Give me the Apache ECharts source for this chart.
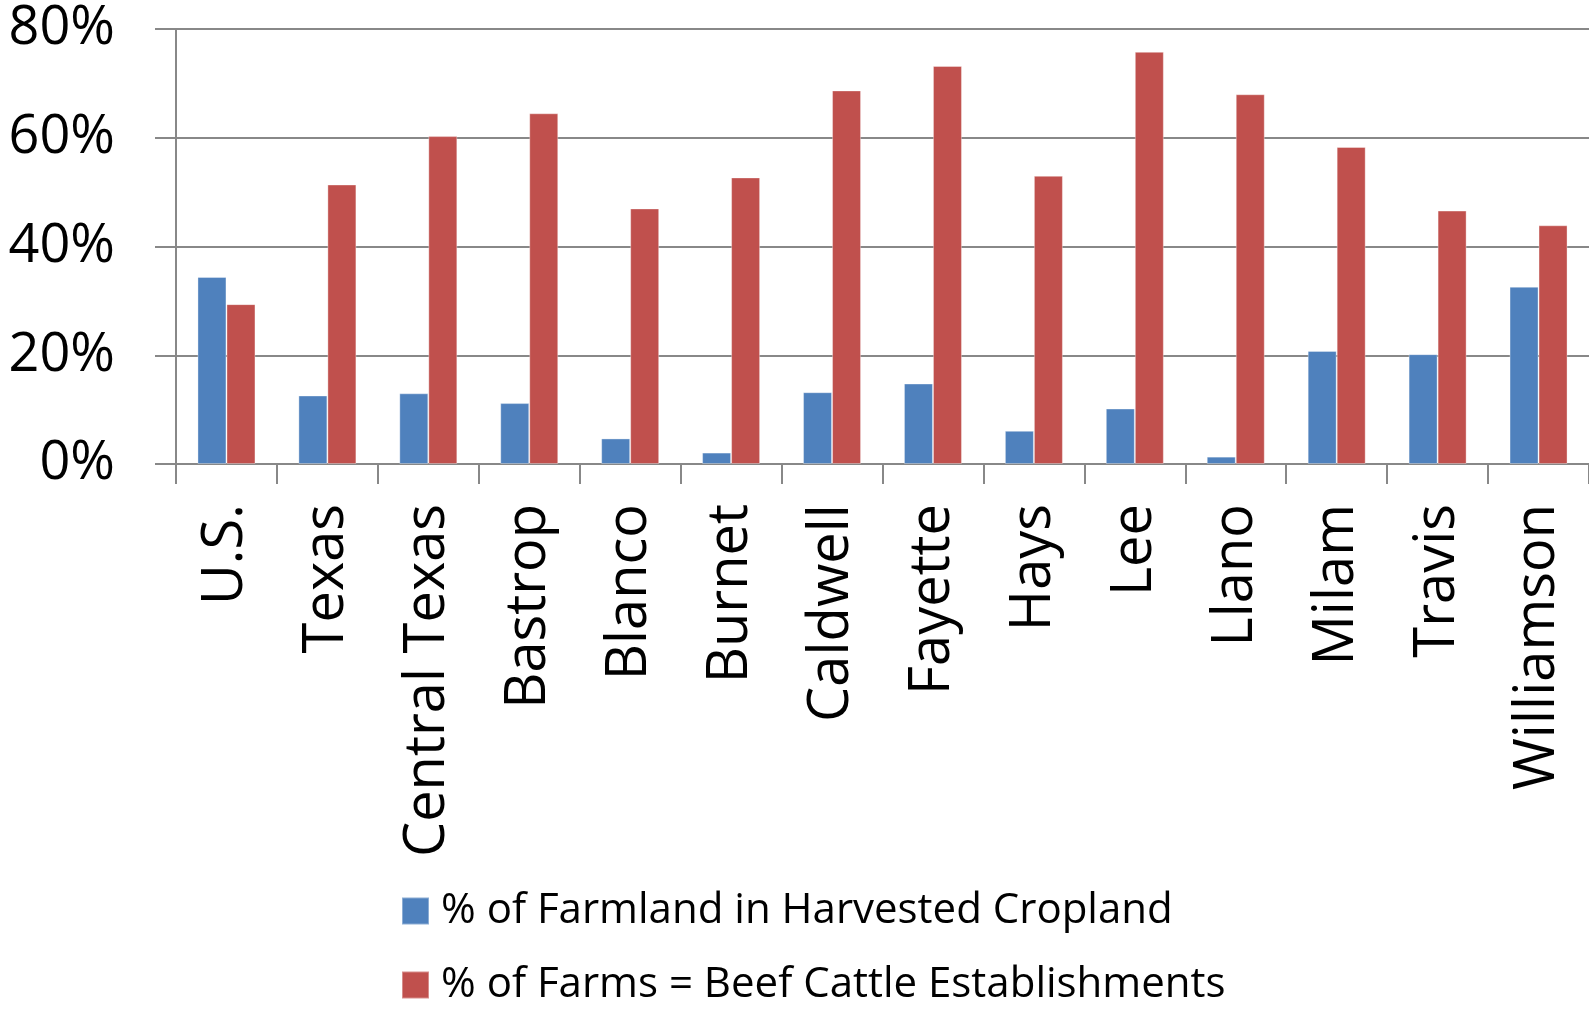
<!DOCTYPE html>
<html>
<head>
<meta charset="utf-8">
<script src="https://cdn.jsdelivr.net/npm/echarts@6/dist/echarts.min.js"></script>
<style>
  html, body { margin: 0; padding: 0; background: #fff; }
  #main { width: 1589px; height: 1009px; }
</style>
</head>
<body>
<div id="main"></div>
<script>
var categories = ['U.S.', 'Texas', 'Central Texas', 'Bastrop', 'Blanco', 'Burnet', 'Caldwell',
  'Fayette', 'Hays', 'Lee', 'Llano', 'Milam', 'Travis', 'Williamson'];
var cropland = [34.4, 12.6, 13.0, 11.2, 4.7, 2.1, 13.2, 14.8, 6.1, 10.2, 1.35, 20.8, 20.2, 32.6];
var beefCattle = [29.4, 51.4, 60.3, 64.5, 47.0, 52.7, 68.7, 73.2, 53.0, 75.8, 68.0, 58.3, 46.6, 43.9];
var seriesNames = ['% of Farmland in Harvested Cropland', '% of Farms = Beef Cattle Establishments'];

var gray = '#888888';
var chart = echarts.init(document.getElementById('main'), null, { renderer: 'canvas' });

// one legend per row, so the rows sit where they should
function makeLegend(name, top) {
  return {
    left: 401,
    top: top,
    itemWidth: 27,
    itemHeight: 27,
    itemGap: 10,
    icon: 'rect',
    padding: 0,
    textStyle: {
      fontFamily: '"Open Sans", sans-serif',
      fontSize: 42,
      color: '#000',
      padding: [0, 0, 0, 7]
    },
    data: [name]
  };
}

var option = {
  animation: false,
  backgroundColor: '#ffffff',
  grid: { left: 176, top: 29, right: 0, bottom: 545, containLabel: false },
  legend: [makeLegend(seriesNames[0], 890), makeLegend(seriesNames[1], 964)],
  xAxis: {
    type: 'category',
    data: categories,
    axisLine: { show: true, lineStyle: { color: gray, width: 2 } },
    axisTick: { show: true, length: 20, lineStyle: { color: gray, width: 2 } },
    axisLabel: {
      rotate: 90,
      margin: 40,
      interval: 0,
      fontFamily: '"Open Sans", sans-serif',
      fontSize: 56,
      color: '#000',
      padding: [14, 0, 0, 0]
    },
    splitLine: { show: false }
  },
  yAxis: {
    type: 'value',
    min: 0,
    max: 80,
    interval: 20,
    axisLine: { show: true, lineStyle: { color: gray, width: 2 } },
    axisTick: { show: true, length: 21, lineStyle: { color: gray, width: 2 } },
    axisLabel: {
      formatter: '{value}%',
      margin: 61,
      fontFamily: '"Open Sans", sans-serif',
      fontSize: 54,
      color: '#000'
    },
    splitLine: { show: true, lineStyle: { color: gray, width: 2 } }
  },
  series: [
    {
      name: seriesNames[0],
      type: 'bar',
      data: cropland,
      barWidth: 29,
      barGap: '0%',
      itemStyle: { color: '#4F81BD', borderColor: 'rgba(255,255,255,0.35)', borderWidth: 1 }
    },
    {
      name: seriesNames[1],
      type: 'bar',
      data: beefCattle,
      barWidth: 29,
      barGap: '0%',
      itemStyle: { color: '#C0504D', borderColor: 'rgba(255,255,255,0.35)', borderWidth: 1 }
    }
  ]
};

chart.setOption(option);
</script>
</body>
</html>
